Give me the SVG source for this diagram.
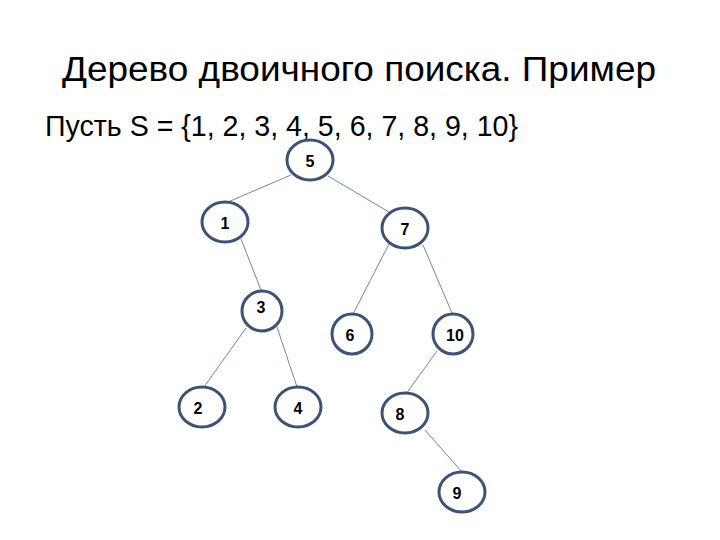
<svg xmlns="http://www.w3.org/2000/svg" width="720" height="540" viewBox="0 0 720 540">
<style>
.node ellipse{fill:#fff;stroke:#3b5376;stroke-width:3}
.node text{font-family:"Liberation Sans",Arial,sans-serif;font-weight:bold;font-size:16px;fill:#000;text-anchor:middle;dominant-baseline:central}
.edges line{stroke:#6f86a6;stroke-width:1}
.title{font-family:"Liberation Sans",Arial,sans-serif;fill:#000}
</style>
<rect width="720" height="540" fill="#fff"/>
<text class="title" x="62" y="81" font-size="35" textLength="594" lengthAdjust="spacingAndGlyphs">Дерево двоичного поиска. Пример</text>
<text class="title" x="45" y="136" font-size="30" textLength="473" lengthAdjust="spacingAndGlyphs">Пусть S = {1, 2, 3, 4, 5, 6, 7, 8, 9, 10}</text>
<g class="edges">
<line x1="291" y1="175" x2="228" y2="202"/>
<line x1="328" y1="176" x2="389" y2="212"/>
<line x1="241" y1="239" x2="261" y2="290"/>
<line x1="389" y1="244" x2="353" y2="314"/>
<line x1="423" y1="245" x2="452" y2="313"/>
<line x1="246" y1="328" x2="204" y2="387"/>
<line x1="277" y1="327" x2="297" y2="387"/>
<line x1="437" y1="351" x2="406" y2="394"/>
<line x1="425" y1="430" x2="462" y2="472"/>
</g>
<g id="n5" class="node"><ellipse cx="310" cy="160" rx="23" ry="20"/><text x="310" y="161">5</text></g>
<g id="n1" class="node"><ellipse cx="225" cy="222" rx="23" ry="20"/><text x="225" y="223">1</text></g>
<g id="n7" class="node"><ellipse cx="405" cy="228" rx="23" ry="20"/><text x="405" y="229">7</text></g>
<g id="n3" class="node"><ellipse cx="262" cy="311" rx="20" ry="20"/><text x="261" y="307">3</text></g>
<g id="n6" class="node"><ellipse cx="352" cy="334" rx="20" ry="20"/><text x="350" y="335">6</text></g>
<g id="n10" class="node"><ellipse cx="453" cy="334" rx="20" ry="20"/><text x="455" y="335">10</text></g>
<g id="n2" class="node"><ellipse cx="202" cy="407" rx="23" ry="20"/><text x="198" y="408">2</text></g>
<g id="n4" class="node"><ellipse cx="298" cy="407" rx="23" ry="20"/><text x="298" y="408">4</text></g>
<g id="n8" class="node"><ellipse cx="405" cy="413" rx="23" ry="20"/><text x="400" y="414">8</text></g>
<g id="n9" class="node"><ellipse cx="462" cy="492" rx="23" ry="20"/><text x="457" y="493">9</text></g>
</svg>
